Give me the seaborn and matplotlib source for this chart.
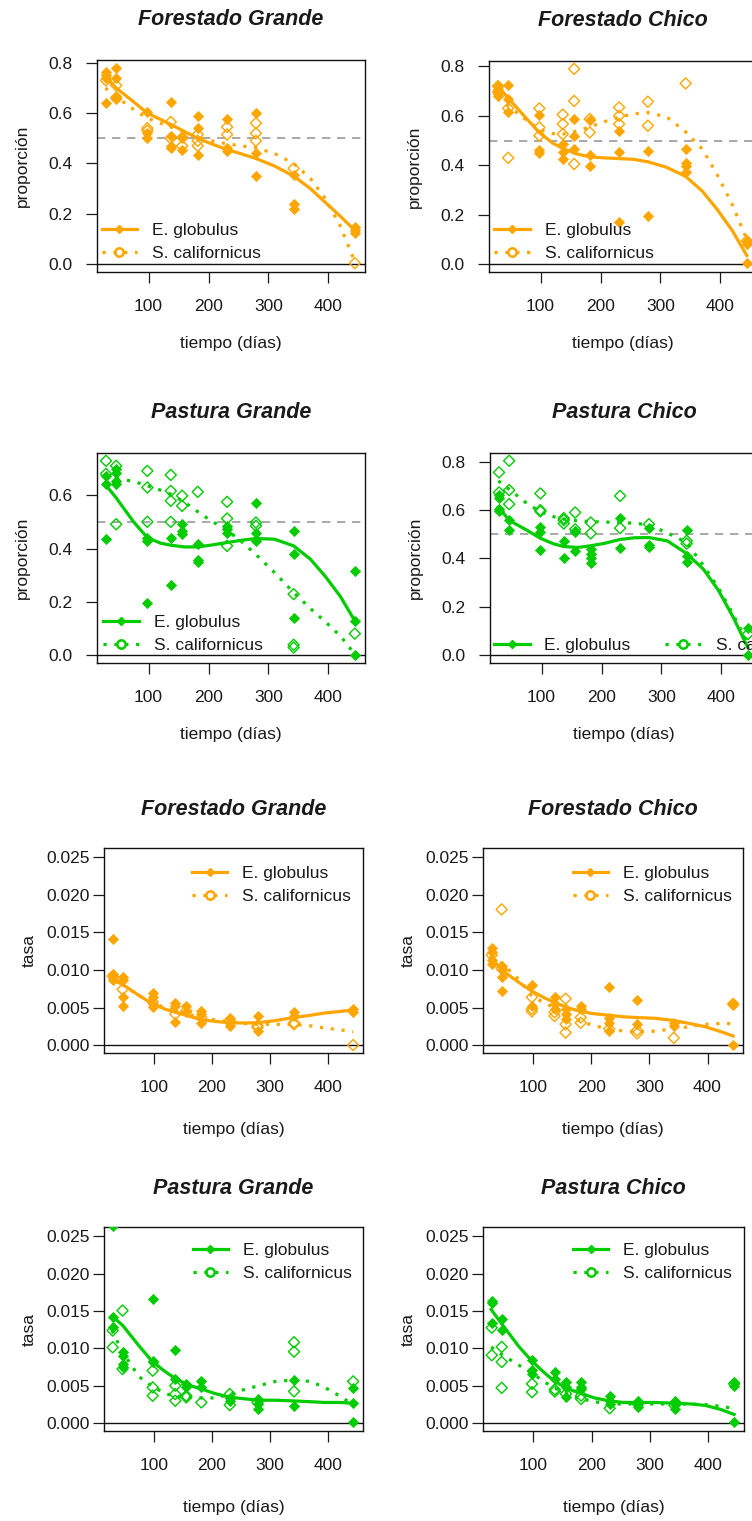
import matplotlib
matplotlib.use("Agg")
import matplotlib.pyplot as plt
import seaborn as sns
import pandas as pd
from matplotlib.lines import Line2D
from matplotlib.markers import MarkerStyle
from matplotlib.ticker import FormatStrFormatter

# ---------------- data ----------------
TIMES = [29, 46, 98, 137, 156, 182, 231, 279, 342, 444]
CURVE_T = [28, 46, 75, 98, 120, 137, 160, 182, 205, 231, 255, 279, 310, 342, 370, 395, 420, 444]
X_TICKS = [100, 200, 300, 400]
PROP_TICKS = [0.0, 0.2, 0.4, 0.6, 0.8]
TASA_TICKS = [0.0, 0.005, 0.010, 0.015, 0.020, 0.025]
SERIES = ["E. globulus", "S. californicus"]
TITLES = ["Forestado Grande", "Forestado Chico", "Pastura Grande", "Pastura Chico",
          "Forestado Grande", "Forestado Chico", "Pastura Grande", "Pastura Chico"]

# points per sampling time (proportion)
FG_PROP_EG = [[0.765, 0.75, 0.74, 0.64], [0.78, 0.74, 0.67, 0.655], [0.605, 0.52, 0.50],
              [0.645, 0.51, 0.47, 0.46], [0.51, 0.50, 0.455], [0.59, 0.54, 0.435],
              [0.578, 0.46, 0.448], [0.60, 0.44, 0.35], [0.355, 0.24, 0.22], [0.147, 0.134, 0.123]]
FG_PROP_SC = [[0.73], [0.71, 0.66], [0.54, 0.53], [0.565, 0.50], [0.47], [0.515, 0.49, 0.47],
              [0.545, 0.515], [0.56, 0.52, 0.49], [0.38], [0.004]]
FC_PROP_EG = [[0.72, 0.71, 0.70, 0.69, 0.68], [0.725, 0.668, 0.614], [0.605, 0.46, 0.448],
              [0.486, 0.452, 0.425], [0.587, 0.52, 0.466], [0.583, 0.443, 0.398],
              [0.54, 0.452, 0.169], [0.459, 0.196], [0.466, 0.41, 0.398, 0.371], [0.092, 0.081, 0.003]]
FC_PROP_SC = [[0.72, 0.695], [0.43, 0.63], [0.63, 0.553, 0.52], [0.605, 0.567, 0.526],
              [0.79, 0.66, 0.405], [0.587, 0.533], [0.634, 0.60, 0.567], [0.657, 0.56], [0.731], [0.094]]
PG_PROP_EG = [[0.673, 0.641, 0.4375], [0.70, 0.685, 0.654, 0.641], [0.44, 0.429, 0.194],
              [0.441, 0.2625], [0.491, 0.466, 0.454], [0.416, 0.356, 0.351], [0.485, 0.4725, 0.46],
              [0.569, 0.46, 0.429], [0.464, 0.379, 0.139], [0.314, 0.129, 0.001]]
PG_PROP_SC = [[0.729, 0.68], [0.71, 0.491], [0.691, 0.629, 0.50], [0.676, 0.616, 0.579, 0.50],
              [0.598, 0.56], [0.6125], [0.575, 0.5125, 0.41], [0.4975, 0.485], [0.229, 0.039, 0.029], [0.081]]
PC_PROP_EG = [[0.6625, 0.651, 0.603, 0.594], [0.558, 0.5165], [0.5275, 0.507, 0.434], [0.4725, 0.401],
              [0.514, 0.507, 0.431], [0.438, 0.417, 0.401, 0.3815], [0.566, 0.442],
              [0.525, 0.456, 0.445], [0.5165, 0.41, 0.387], [0.114, 0.0]]
PC_PROP_SC = [[0.755, 0.672], [0.803, 0.682, 0.624], [0.668, 0.599, 0.594], [0.566, 0.558, 0.544],
              [0.5895, 0.52], [0.548, 0.503], [0.658, 0.525], [0.541], [0.4725, 0.461], [0.087]]

# points per sampling time (rate)
FG_TASA_EG = [[0.01416, 0.00954, 0.0091, 0.00865], [0.0091, 0.00865, 0.0064, 0.0052],
              [0.00694, 0.0064, 0.0055, 0.00506], [0.00565, 0.0052, 0.00314], [0.0052, 0.0044],
              [0.00461, 0.00417, 0.0030], [0.0037, 0.0030, 0.0026], [0.0039, 0.0019],
              [0.0044, 0.0039], [0.0048, 0.0045]]
FG_TASA_SC = [[0.0092], [0.00744], [0.0058], [0.00417], [0.0046], [0.0037], [0.0033],
              [0.0026, 0.0024], [0.0030, 0.0028], [0.00004]]
FC_TASA_EG = [[0.0129, 0.01245, 0.01133, 0.0108], [0.01053, 0.0100, 0.0091, 0.00717], [0.00806, 0.00529],
              [0.0064, 0.0055, 0.00484], [0.00484, 0.00417, 0.0035], [0.0052, 0.00484],
              [0.00775, 0.0037, 0.0030, 0.0019], [0.0060, 0.0028], [0.0030, 0.0026], [0.0056, 0.0053, 0.00004]]
FC_TASA_SC = [[0.0120], [0.01805, 0.0102], [0.0064, 0.00484, 0.00452], [0.0039, 0.0044],
              [0.0062, 0.0028, 0.0017], [0.0037, 0.0030], [0.0022], [0.0020, 0.0016], [0.0010], [0.0055]]
PG_TASA_EG = [[0.0263, 0.01417, 0.01283], [0.0095, 0.00905, 0.00793, 0.00749], [0.01662, 0.00838, 0.00815],
              [0.0098, 0.00593], [0.00526, 0.00481], [0.0057, 0.00481], [0.00334, 0.00303],
              [0.00325, 0.00258, 0.00192], [0.00579, 0.00227], [0.00468, 0.00267, 0.00013]]
PG_TASA_SC = [[0.01239, 0.01016], [0.01506, 0.00726], [0.00704, 0.00481, 0.0037], [0.00504, 0.00392, 0.00303],
              [0.0037, 0.00348], [0.00281], [0.00392, 0.00245], [0.0028], [0.01083, 0.00958, 0.00428], [0.00561]]
PC_TASA_EG = [[0.01635, 0.01604, 0.01335], [0.01393, 0.01246], [0.00842, 0.00708, 0.00663],
              [0.00685, 0.00596], [0.00551, 0.00484, 0.0035], [0.00551, 0.00484, 0.00461],
              [0.00372, 0.00305, 0.0026], [0.00305, 0.0026, 0.00215], [0.00305, 0.0026, 0.00193],
              [0.00551, 0.00506, 0.00013]]
PC_TASA_SC = [[0.01277, 0.0091], [0.01021, 0.0082, 0.00475], [0.00529, 0.00417], [0.00453, 0.00426],
              [0.00394], [0.00372, 0.00327], [0.00202], [0.0026], [0.0024], [0.00529]]

# fitted curves, read at CURVE_T
FG_PROP_EG_FIT = [0.745, 0.70, 0.645, 0.60, 0.575, 0.555, 0.527, 0.50, 0.478, 0.455, 0.438, 0.42, 0.39, 0.35, 0.30, 0.245, 0.19, 0.134]
FG_PROP_SC_FIT = [0.70, 0.665, 0.615, 0.58, 0.56, 0.545, 0.525, 0.505, 0.49, 0.478, 0.47, 0.462, 0.44, 0.40, 0.34, 0.26, 0.15, 0.01]
FC_PROP_EG_FIT = [0.72, 0.672, 0.593, 0.532, 0.49, 0.468, 0.446, 0.434, 0.43, 0.427, 0.424, 0.414, 0.392, 0.355, 0.295, 0.22, 0.135, 0.035]
FC_PROP_SC_FIT = [0.67, 0.64, 0.585, 0.545, 0.528, 0.526, 0.538, 0.555, 0.575, 0.595, 0.608, 0.613, 0.596, 0.535, 0.465, 0.36, 0.24, 0.10]
PG_PROP_EG_FIT = [0.64, 0.59, 0.50, 0.441, 0.42, 0.4125, 0.406, 0.406, 0.413, 0.4225, 0.431, 0.4375, 0.435, 0.41, 0.36, 0.295, 0.22, 0.129]
PG_PROP_SC_FIT = [0.665, 0.662, 0.652, 0.635, 0.619, 0.604, 0.574, 0.538, 0.503, 0.469, 0.426, 0.378, 0.31, 0.235, 0.175, 0.125, 0.072, 0.004]
PC_PROP_EG_FIT = [0.612, 0.557, 0.517, 0.483, 0.46, 0.449, 0.445, 0.452, 0.462, 0.478, 0.485, 0.486, 0.472, 0.42, 0.355, 0.268, 0.155, 0.032]
PC_PROP_SC_FIT = [0.72, 0.685, 0.628, 0.592, 0.572, 0.562, 0.555, 0.552, 0.55, 0.548, 0.545, 0.538, 0.505, 0.465, 0.37, 0.278, 0.165, 0.05]
FG_TASA_EG_FIT = [0.0087, 0.0081, 0.0066, 0.0055, 0.0048, 0.0044, 0.0039, 0.0034, 0.0032, 0.0030, 0.00298, 0.0030, 0.0033, 0.0037, 0.0040, 0.0043, 0.0045, 0.0047]
FG_TASA_SC_FIT = [0.0088, 0.0080, 0.0066, 0.0056, 0.0050, 0.0046, 0.0041, 0.0037, 0.0034, 0.0031, 0.0029, 0.0028, 0.0028, 0.0028, 0.0026, 0.0023, 0.0021, 0.0018]
FC_TASA_EG_FIT = [0.0117, 0.0100, 0.0084, 0.0072, 0.0063, 0.0057, 0.0050, 0.0045, 0.0042, 0.0040, 0.0038, 0.0037, 0.0036, 0.0033, 0.0029, 0.0025, 0.0019, 0.00125]
FC_TASA_SC_FIT = [0.0119, 0.0109, 0.0088, 0.0066, 0.0056, 0.0050, 0.0040, 0.0032, 0.0026, 0.0022, 0.0019, 0.0018, 0.0019, 0.0022, 0.0025, 0.0028, 0.0029, 0.0029]
PG_TASA_EG_FIT = [0.0143, 0.0131, 0.0103, 0.0082, 0.0069, 0.0060, 0.0051, 0.0046, 0.0040, 0.0035, 0.0033, 0.0031, 0.0031, 0.0030, 0.0029, 0.0028, 0.0028, 0.0027]
PG_TASA_SC_FIT = [0.0124, 0.0095, 0.0062, 0.0049, 0.0040, 0.0036, 0.0035, 0.0034, 0.0034, 0.0039, 0.0045, 0.0050, 0.0056, 0.0058, 0.0056, 0.0048, 0.0037, 0.0025]
PC_TASA_EG_FIT = [0.0152, 0.0133, 0.0103, 0.0083, 0.0067, 0.0056, 0.0046, 0.0040, 0.0034, 0.0030, 0.0028, 0.0028, 0.0028, 0.0027, 0.0026, 0.0024, 0.0019, 0.0012]
PC_TASA_SC_FIT = [0.0102, 0.0092, 0.0078, 0.0067, 0.0055, 0.0047, 0.0039, 0.0033, 0.0029, 0.0026, 0.0026, 0.0026, 0.0026, 0.0026, 0.0026, 0.0025, 0.0023, 0.0020]

TASA_RANGE = [0.0, 0.0252]

# ---------------- style ----------------
ORANGE = "#FFA500"
GREEN = "#00CC00"
plt.rcParams["font.family"] = ["Liberation Sans", "DejaVu Sans"]
plt.rcParams["text.color"] = "#1a1a1a"
plt.rcParams["axes.labelcolor"] = "#1a1a1a"
plt.rcParams["xtick.color"] = "#1a1a1a"
plt.rcParams["ytick.color"] = "#1a1a1a"
FS = 12.5

W, H = 752, 1521
fig = plt.figure(figsize=(W / 100, H / 100), dpi=100)


def rect(L, T, R, B):
    return [L / W, 1 - B / H, (R - L) / W, (B - T) / H]


def long_df(pts):
    rows = [(t, v) for t, vals in zip(TIMES, pts) for v in vals]
    return pd.DataFrame(rows, columns=["t", "v"])


panels = [
    (FG_PROP_EG, FG_PROP_SC, FG_PROP_EG_FIT, FG_PROP_SC_FIT, ORANGE, "prop", (97, 60, 365, 272), ("lower left", (0.0175, 0.05), 1)),
    (FC_PROP_EG, FC_PROP_SC, FC_PROP_EG_FIT, FC_PROP_SC_FIT, ORANGE, "prop", (489, 61, 757, 272), ("lower left", (0.0195, 0.05), 1)),
    (PG_PROP_EG, PG_PROP_SC, PG_PROP_EG_FIT, PG_PROP_SC_FIT, GREEN, "prop", (97, 453, 365, 663), ("lower left", (0.024, 0.047), 1)),
    (PC_PROP_EG, PC_PROP_SC, PC_PROP_EG_FIT, PC_PROP_SC_FIT, GREEN, "prop", (490, 453, 758, 663), ("lower left", (0.015, 0.047), 2)),
    (FG_TASA_EG, FG_TASA_SC, FG_TASA_EG_FIT, FG_TASA_SC_FIT, ORANGE, "tasa", (104, 848, 363, 1053), ("upper left", (0.339, 0.912), 1)),
    (FC_TASA_EG, FC_TASA_SC, FC_TASA_EG_FIT, FC_TASA_SC_FIT, ORANGE, "tasa", (483, 848, 743, 1053), ("upper left", (0.345, 0.912), 1)),
    (PG_TASA_EG, PG_TASA_SC, PG_TASA_EG_FIT, PG_TASA_SC_FIT, GREEN, "tasa", (104, 1227, 363, 1431), ("upper left", (0.342, 0.924), 1)),
    (PC_TASA_EG, PC_TASA_SC, PC_TASA_EG_FIT, PC_TASA_SC_FIT, GREEN, "tasa", (483, 1227, 744, 1431), ("upper left", (0.344, 0.924), 1)),
]

open_diamond = MarkerStyle("D", fillstyle="none")

for i, (eg, sc, eg_fit, sc_fit, col, kind, (L, T, R, B), (loc, anchor, ncol)) in enumerate(panels):
    ax = fig.add_axes(rect(L, T, R, B))
    h_px = B - T
    w_px = R - L
    df_eg = long_df(eg)
    df_sc = long_df(sc)

    if kind == "prop":
        ax.axhline(0.5, color="#9a9a9a", lw=1.2, ls=(0, (5, 4)), zorder=1)
    ax.axhline(0.0, color="#111111", lw=1.0, zorder=1)

    sns.scatterplot(data=df_sc, x="t", y="v", ax=ax, marker=open_diamond, s=32,
                    color=col, linewidth=1.0, legend=False, zorder=3)
    sns.scatterplot(data=df_eg, x="t", y="v", ax=ax, marker="D", s=26,
                    color=col, edgecolor=col, linewidth=0.6, legend=False, zorder=4)
    sns.lineplot(x=CURVE_T, y=eg_fit, ax=ax, color=col, lw=2.3, legend=False, zorder=5)
    sns.lineplot(x=CURVE_T, y=sc_fit, ax=ax, color=col, lw=2.3, ls=(0, (1, 2.4)),
                 legend=False, zorder=5)

    ax.set_xlim(14, 461)
    if kind == "prop":
        m = max(max(max(v) for v in eg), max(max(v) for v in sc))
        ax.set_ylim(-0.04 * m, 1.04 * m)
        ax.set_yticks([tk for tk in PROP_TICKS if tk <= 1.04 * m])
        ax.yaxis.set_major_formatter(FormatStrFormatter("%.1f"))
        ax.set_ylabel("proporción", fontsize=FS)
        ypad = 9.4
        xl_off = 64.0
        tpad = 25.5
    else:
        span = TASA_RANGE[1] - TASA_RANGE[0]
        ax.set_ylim(TASA_RANGE[0] - 0.04 * span, TASA_RANGE[1] + 0.04 * span)
        ax.set_yticks(TASA_TICKS)
        ax.yaxis.set_major_formatter(FormatStrFormatter("%.3f"))
        ax.set_ylabel("tasa", fontsize=FS)
        ypad = 2.2
        xl_off = 69.0
        tpad = 24
    ax.set_xticks(X_TICKS)
    ax.set_xlabel("tiempo (días)", fontsize=FS)
    ax.tick_params(axis="both", direction="out", length=7.9, width=0.9, labelsize=FS,
                   top=False, right=False)
    ax.tick_params(axis="x", pad=11.7)
    ax.tick_params(axis="y", pad=ypad)
    for sp in ax.spines.values():
        sp.set_color("#111111")
        sp.set_linewidth(1.0)
    ax.set_facecolor("white")
    ax.yaxis.set_label_coords(-67.0 / w_px, 0.5)
    ax.xaxis.set_label_coords(0.5, -xl_off / h_px)
    ax.set_title(TITLES[i], fontsize=15.5, fontweight="bold", fontstyle="italic", pad=tpad)

    handles = [
        Line2D([], [], color=col, lw=2.3, ls="-", marker="D", ms=4.5, mfc=col, mec=col),
        Line2D([], [], color=col, lw=2.3, ls=(0, (1, 2.4)), marker="o", ms=6, mfc="none", mec=col, mew=1.8),
    ]
    ax.legend(handles, SERIES, loc=loc, bbox_to_anchor=anchor, ncol=ncol, frameon=False,
              fontsize=FS, handlelength=2.05, handletextpad=0.85, borderpad=0, borderaxespad=0,
              labelspacing=0.45, columnspacing=2.0)

fig.savefig("out.png", dpi=100, facecolor="white")
